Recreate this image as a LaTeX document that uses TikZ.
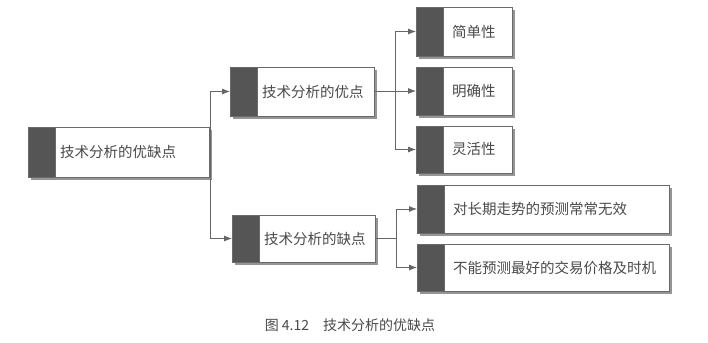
\documentclass[tikz,border=0pt]{standalone}
\usepackage{fontspec}
\setmainfont{Noto Sans CJK SC}
\usepackage{tikz}
\usetikzlibrary{positioning, arrows.meta, shadows}
\definecolor{barGray}{HTML}{555555}
\definecolor{frameGray}{HTML}{6A6A6A}
\definecolor{shadowGray}{HTML}{959595}
\definecolor{textGray}{HTML}{4A4A4A}
\definecolor{lineGray}{HTML}{666666}
\tikzset{
  barcell/.style={rectangle, draw=frameGray, fill=barGray, line width=0.7pt,
    minimum width=27pt, inner sep=0pt, outer sep=0pt,
    drop shadow={shadow xshift=3pt, shadow yshift=-3pt, fill=shadowGray, opacity=1}},
  bodycell/.style={rectangle, draw=frameGray, fill=white, line width=0.7pt,
    inner ysep=0pt, outer sep=0pt, align=left, text=textGray,
    font=\fontsize{14.5}{17}\selectfont,
    drop shadow={shadow xshift=3pt, shadow yshift=-3pt, fill=shadowGray, opacity=1}},
  arrowline/.style={-{Latex[length=8pt, width=6pt]}, line width=0.8pt, lineGray},
  forkline/.style={line width=0.8pt, lineGray},
}
\newcommand{\tagbox}[6][48pt]{%
  \pgfmathsetlengthmacro{\tagtextw}{#4-2*#5}%
  \node[barcell, minimum height=#1, anchor=west] (#2bar) at (#3) {};
  \node[bodycell, minimum height=#1, minimum width=#4pt, inner xsep=#5pt,
        text width=\tagtextw, right=0pt of #2bar] (#2) {#6};}

\begin{document}
\begin{tikzpicture}[x=1pt, y=-1pt]
  \useasboundingbox[fill=white] (0,0) rectangle (708,342);
  % main topic
  \tagbox[50pt]{root}{28,152}{154}{5}{技术分析的优缺点}
  % pros and cons
  \tagbox[49pt]{pros}{230,91.5}{117}{5}{技术分析的优点}
  \tagbox[47pt]{cons}{232,238.5}{116}{5}{技术分析的缺点}
  % leaves
  \tagbox[49pt]{simple}{416,31.5}{69}{9}{简单性}
  \tagbox{clear}{416,91}{69}{9}{明确性}
  \tagbox[47pt]{flexible}{416,149.5}{69}{9}{灵活性}
  \tagbox{longterm}{417,209}{225}{9}{对长期走势的预测常常无效}
  \tagbox[47pt]{timing}{417,267.5}{225}{9}{不能预测最好的交易价格及时机}
  % connectors
  \coordinate (rootfork) at ([xshift=1.5pt]root.east);
  \coordinate (prosfork) at ([xshift=21pt]pros.east);
  \coordinate (consfork) at ([xshift=21pt]cons.east);
  \draw[forkline] (root.east) -- (rootfork);
  \draw[arrowline] (rootfork) |- (prosbar.west);
  \draw[arrowline] (rootfork) |- (consbar.west);
  \draw[forkline] (pros.east) -- (prosfork);
  \foreach \leaf in {simple, clear, flexible}
    \draw[arrowline] (prosfork) |- (\leaf bar.west);
  \draw[forkline] (cons.east) -- (consfork);
  \foreach \leaf in {longterm, timing}
    \draw[arrowline] (consfork) |- (\leaf bar.west);
  % caption
  \node[text=textGray, font=\fontsize{14}{16}\selectfont] (caption) at (350,325)
    {图 4.12\hspace{1em}技术分析的优缺点};
\end{tikzpicture}
\end{document}
